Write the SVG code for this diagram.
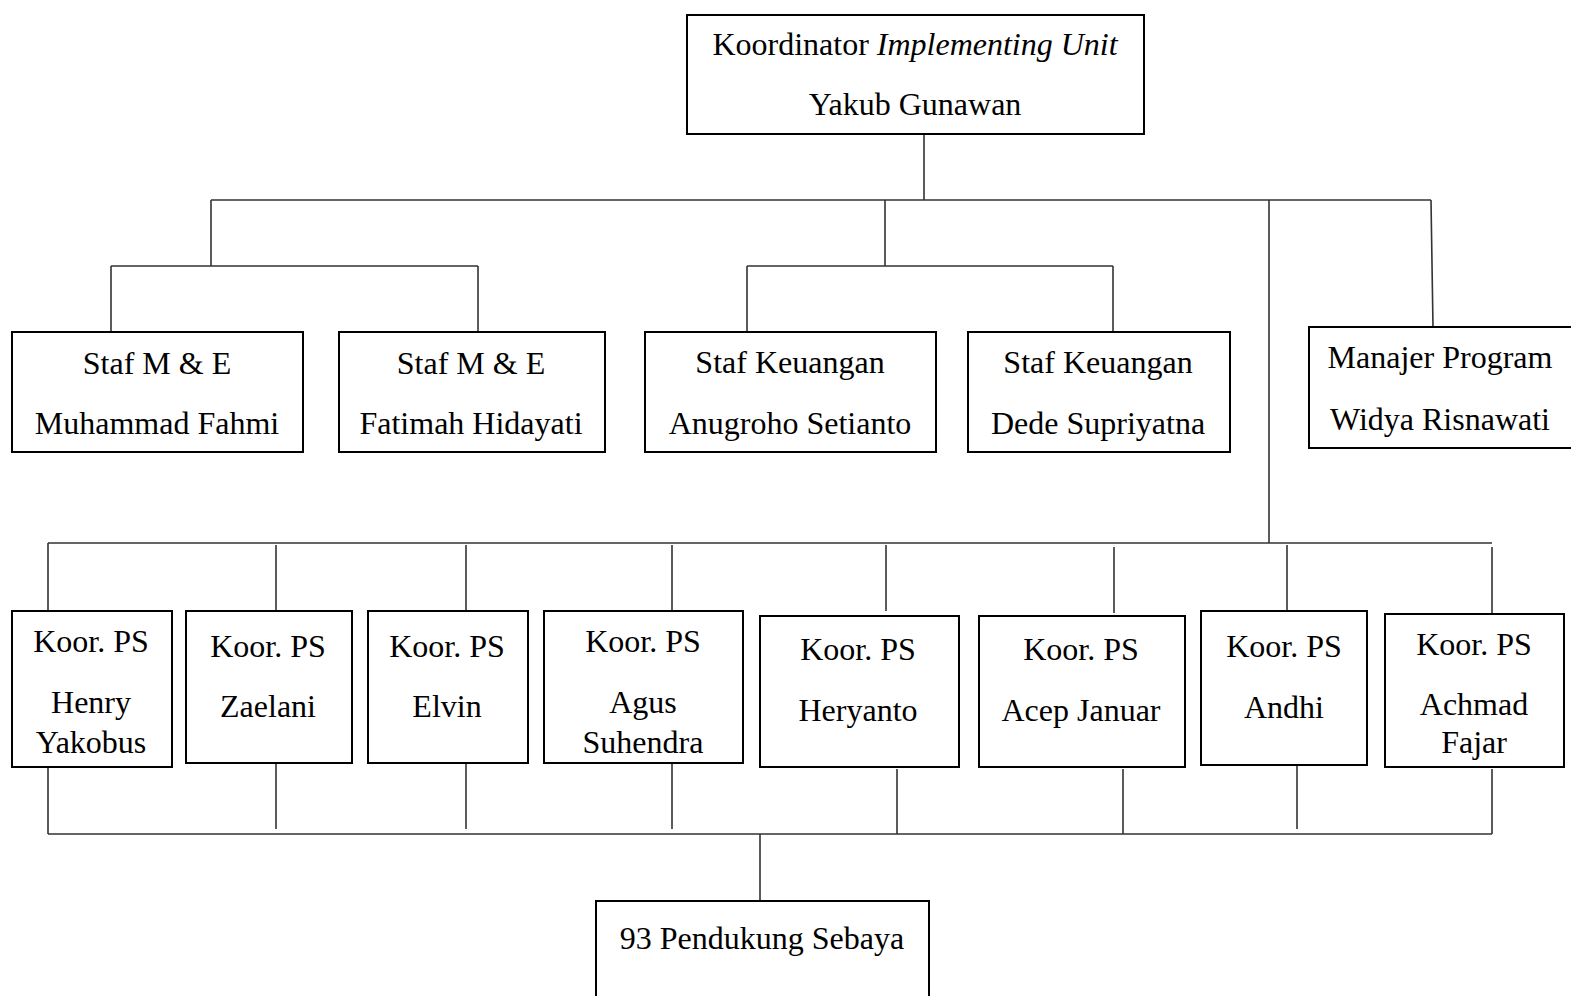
<svg xmlns="http://www.w3.org/2000/svg" width="1571" height="996" viewBox="0 0 1571 996">
<style>
.box{fill:#fff;stroke:#000;stroke-width:2}
.c{stroke:#333;stroke-width:1.6;fill:none}
text{font-family:"Liberation Serif","Times New Roman",serif;font-size:32px;fill:#000;text-anchor:middle}
.it{font-style:italic}
</style>
<rect width="1571" height="996" fill="#fff"/>
<g id="connectors">
<path class="c" d="M924 134V200M211 200H1431M211 200V266M111 266H478M111 266V332M478 266V332M885 200V266M747 266H1113M747 266V332M1113 266V332M1431 200L1433 327M1269 200V543"/>
<path class="c" d="M48 543H1492M48 543V611M276 545V611M466 545V611M672 545V611M886 545V611M1114 547V613M1287 545V611M1492 547V614"/>
<path class="c" d="M48 767V834M276 764V829M466 764V829M672 764V829M897 769V834M1123 769V834M1297 765V829M1492 769V834M48 834H1492M760 834V901"/>
</g>
<g id="n-koordinator"><rect class="box" x="687" y="15" width="457" height="119"/><text x="915" y="55">Koordinator <tspan class="it">Implementing Unit</tspan></text><text x="915" y="115">Yakub Gunawan</text></g>
<g id="n-me1"><rect class="box" x="12" y="332" width="291" height="120"/><text x="157" y="374">Staf M &amp; E</text><text x="157" y="434">Muhammad Fahmi</text></g>
<g id="n-me2"><rect class="box" x="339" y="332" width="266" height="120"/><text x="471" y="374">Staf M &amp; E</text><text x="471" y="434">Fatimah Hidayati</text></g>
<g id="n-keu1"><rect class="box" x="645" y="332" width="291" height="120"/><text x="790" y="373">Staf Keuangan</text><text x="790" y="434">Anugroho Setianto</text></g>
<g id="n-keu2"><rect class="box" x="968" y="332" width="262" height="120"/><text x="1098" y="373">Staf Keuangan</text><text x="1098" y="434">Dede Supriyatna</text></g>
<g id="n-manajer"><rect class="box" x="1309" y="327" width="280" height="121"/><text x="1440" y="368">Manajer Program</text><text x="1440" y="430">Widya Risnawati</text></g>
<g id="n-henry"><rect class="box" x="12" y="611" width="160" height="156"/><text x="91" y="652">Koor. PS</text><text x="91" y="713">Henry</text><text x="91" y="753">Yakobus</text></g>
<g id="n-zaelani"><rect class="box" x="186" y="611" width="166" height="152"/><text x="268" y="657">Koor. PS</text><text x="268" y="717">Zaelani</text></g>
<g id="n-elvin"><rect class="box" x="368" y="611" width="160" height="152"/><text x="447" y="657">Koor. PS</text><text x="447" y="717">Elvin</text></g>
<g id="n-agus"><rect class="box" x="544" y="611" width="199" height="152"/><text x="643" y="652">Koor. PS</text><text x="643" y="713">Agus</text><text x="643" y="753">Suhendra</text></g>
<g id="n-heryanto"><rect class="box" x="760" y="616" width="199" height="151"/><text x="858" y="660">Koor. PS</text><text x="858" y="721">Heryanto</text></g>
<g id="n-acep"><rect class="box" x="979" y="616" width="206" height="151"/><text x="1081" y="660">Koor. PS</text><text x="1081" y="721">Acep Januar</text></g>
<g id="n-andhi"><rect class="box" x="1201" y="611" width="166" height="154"/><text x="1284" y="657">Koor. PS</text><text x="1284" y="718">Andhi</text></g>
<g id="n-achmad"><rect class="box" x="1385" y="614" width="179" height="153"/><text x="1474" y="655">Koor. PS</text><text x="1474" y="715">Achmad</text><text x="1474" y="753">Fajar</text></g>
<g id="n-pendukung"><rect class="box" x="596" y="901" width="333" height="120"/><text x="762" y="949">93 Pendukung Sebaya</text></g>
</svg>
